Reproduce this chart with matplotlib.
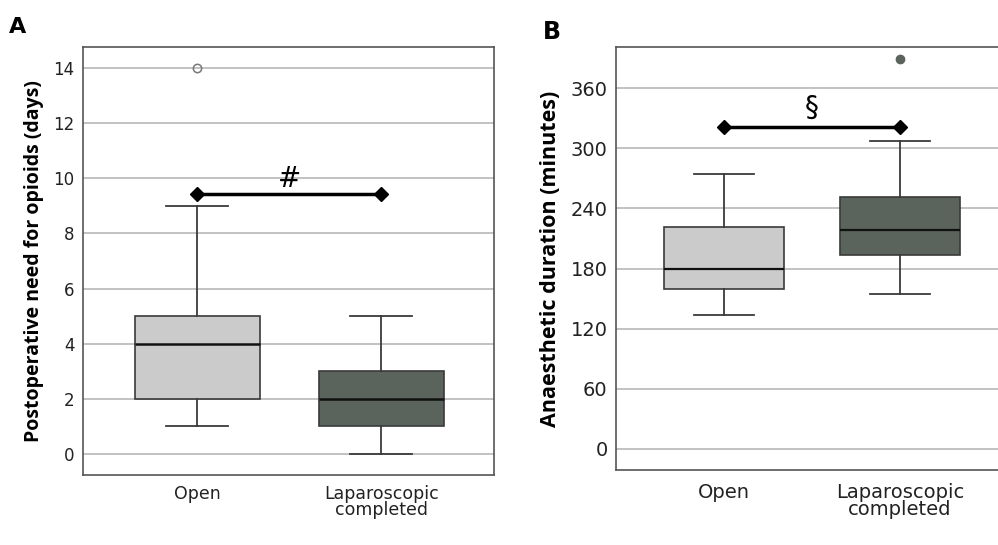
import matplotlib
matplotlib.use("Agg")
import matplotlib.pyplot as plt

# Data
groups = ["Open", "Laparoscopic\ncompleted"]

# Panel A: Postoperative need for opioids (days)
a_whislo = [1, 0]
a_q1 = [2, 1]
a_med = [4, 2]
a_q3 = [5, 3]
a_whishi = [9, 5]
a_fliers = [[14], []]
a_yticks = [0, 2, 4, 6, 8, 10, 12, 14]
a_sig_y = 9.45

# Panel B: Anaesthetic duration (minutes)
b_whislo = [134, 155]
b_q1 = [160, 194]
b_med = [180, 218]
b_q3 = [221, 251]
b_whishi = [274, 307]
b_fliers = [[], [389]]
b_yticks = [0, 60, 120, 180, 240, 300, 360]
b_sig_y = 321

light = "#cbcbcb"
dark = "#5a635c"
edge = "#3a3a3a"
grid_c = "#bdbdbd"

fig = plt.figure(figsize=(9.98, 5.45), dpi=100)

def make_stats(whislo, q1, med, q3, whishi, fliers):
    st = []
    for i in range(len(med)):
        st.append(dict(whislo=whislo[i], q1=q1[i], med=med[i], q3=q3[i],
                       whishi=whishi[i], fliers=fliers[i]))
    return st

def draw(ax, stats, yticks, ylim, xlim, tick_fs, xlab_fs, flier_styles, med_lw, pad):
    for yt in yticks:
        ax.axhline(yt, color=grid_c, lw=1.3, zorder=0)
    bp = ax.bxp(stats, positions=[1, 2], widths=0.68, patch_artist=True,
                showfliers=True, manage_ticks=False,
                whiskerprops=dict(color=edge, lw=1.3),
                capprops=dict(color=edge, lw=1.3),
                boxprops=dict(edgecolor=edge, lw=1.2),
                medianprops=dict(color="#111111", lw=med_lw),
                capwidths=0.34)
    for patch, c in zip(bp["boxes"], [light, dark]):
        patch.set_facecolor(c)
        patch.set_zorder(2)
    for fl, stl in zip(bp["fliers"], flier_styles):
        fl.set(**stl)
    ax.set_ylim(*ylim)
    ax.set_xlim(*xlim)
    ax.set_yticks(yticks)
    ax.set_yticklabels([str(t) for t in yticks], fontsize=tick_fs, color="#222222")
    ax.set_xticks([1, 2])
    ax.set_xticklabels(groups, fontsize=xlab_fs, color="#222222", linespacing=0.9)
    ax.tick_params(axis="y", length=0, pad=6)
    ax.tick_params(axis="x", length=0, pad=pad)
    for s in ax.spines.values():
        s.set_color("#555555")
        s.set_linewidth(1.2)

# Panel A
axA = fig.add_axes([0.0832, 0.1284, 0.412, 0.7854])
draw(axA, make_stats(a_whislo, a_q1, a_med, a_q3, a_whishi, a_fliers),
     a_yticks, (-0.77, 14.77), (0.38, 2.614), 12, 12.5,
     [dict(marker="o", markerfacecolor="none", markeredgecolor="#777777", markersize=6, markeredgewidth=1.1),
      dict(marker="o")], 1.8, 7)
axA.plot([1, 2], [a_sig_y, a_sig_y], color="black", lw=2.5, marker="D", markersize=7, zorder=5)
axA.text(1.5, a_sig_y + 0.02, "#", ha="center", va="bottom", fontsize=20, color="black")
axA.set_ylabel("Postoperative need for opioids (days)", fontsize=14, fontweight="bold",
               family="Open Sans", labelpad=7)

# Panel B
axB = fig.add_axes([0.6172, 0.1376, 0.3828, 0.776])
draw(axB, make_stats(b_whislo, b_q1, b_med, b_q3, b_whishi, b_fliers),
     b_yticks, (-21, 401), (0.386, 2.557), 14, 14,
     [dict(marker="o"),
      dict(marker="o", markerfacecolor=dark, markeredgecolor=dark, markersize=6)], 1.6, 9)
axB.spines["right"].set_visible(False)
axB.plot([1, 2], [b_sig_y, b_sig_y], color="black", lw=2.5, marker="D", markersize=7, zorder=5)
axB.text(1.5, b_sig_y + 5, "§", ha="center", va="bottom", fontsize=20, color="black")
axB.set_ylabel("Anaesthetic duration (minutes)", fontsize=15.5, fontweight="bold",
               family="Open Sans", labelpad=7)

fig.text(0.009, 0.95, "A", fontsize=16, fontweight="bold", family="DejaVu Sans", va="center")
fig.text(0.544, 0.942, "B", fontsize=17, fontweight="bold", family="DejaVu Sans", va="center")

fig.savefig("out.png", dpi=100)
